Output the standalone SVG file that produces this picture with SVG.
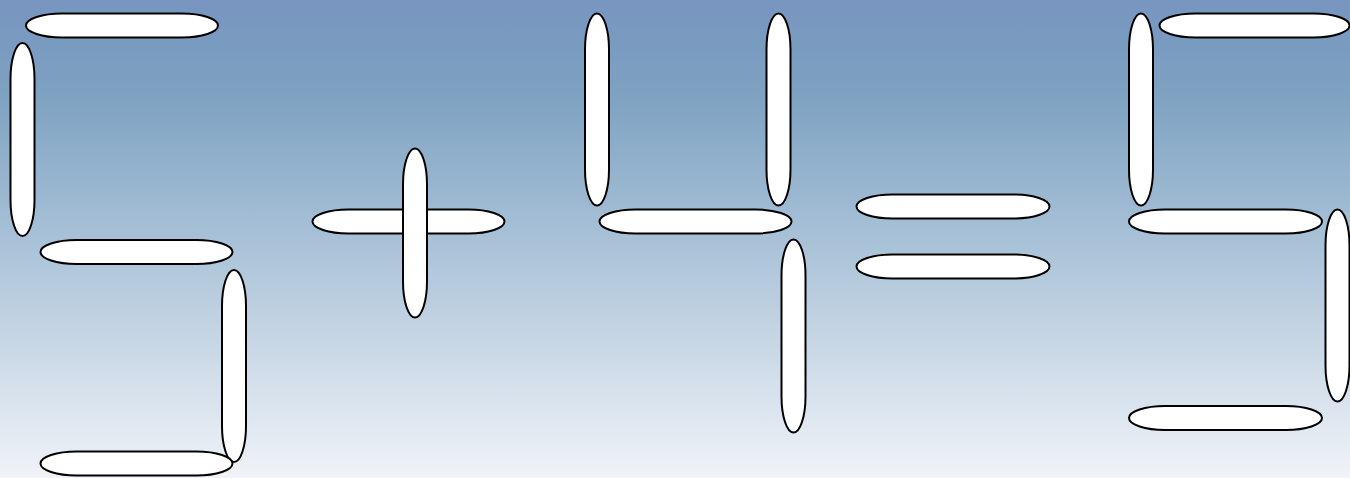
<svg xmlns="http://www.w3.org/2000/svg" width="1350" height="478" viewBox="0 0 1350 478">
<defs>
<linearGradient id="bg" x1="0" y1="0" x2="0" y2="1">
<stop offset="0" stop-color="#7795bf"/>
<stop offset="0.2" stop-color="#7ea2c2"/>
<stop offset="0.5" stop-color="#a8c1d7"/>
<stop offset="1" stop-color="#f0f3f8"/>
</linearGradient>
<style>
.h{fill:#fff;stroke:#000;stroke-width:2;}
.v{fill:#fff;stroke:#000;stroke-width:2;}
</style>
</defs>
<rect width="1350" height="478" fill="url(#bg)"/>
<g id="digit5">
<rect class="h" x="26" y="13.5" width="192" height="24" rx="36" ry="12"/>
<rect class="v" x="10.5" y="43" width="24" height="193" rx="12" ry="36"/>
<rect class="h" x="40.5" y="240" width="192" height="24" rx="36" ry="12"/>
<rect class="v" x="222" y="270" width="24" height="192" rx="12" ry="36"/>
<rect class="h" x="40.5" y="451.5" width="192" height="24" rx="36" ry="12"/>
</g>
<g id="plus">
<rect class="h" x="312.5" y="209.5" width="192" height="24" rx="36" ry="12"/>
<rect class="v" x="403" y="148.5" width="24" height="169" rx="12" ry="36"/>
</g>
<g id="digit4">
<rect class="v" x="585" y="13.5" width="24" height="192" rx="12" ry="36"/>
<rect class="v" x="766.5" y="13.5" width="24" height="192" rx="12" ry="36"/>
<rect class="h" x="599.5" y="209.5" width="192" height="24" rx="36" ry="12"/>
<rect class="v" x="781.5" y="239.5" width="24" height="193" rx="12" ry="36"/>
</g>
<g id="equals">
<rect class="h" x="856.5" y="194.5" width="193" height="24" rx="36" ry="12"/>
<rect class="h" x="856.5" y="254.5" width="193" height="24" rx="36" ry="12"/>
</g>
<g id="result5">
<rect class="v" x="1129" y="13.5" width="24" height="192" rx="12" ry="36"/>
<rect class="h" x="1159.5" y="13.5" width="190" height="24" rx="36" ry="12"/>
<rect class="h" x="1129" y="209.5" width="193" height="24" rx="36" ry="12"/>
<rect class="v" x="1325.5" y="209.5" width="24" height="192" rx="12" ry="36"/>
<rect class="h" x="1129" y="406" width="193" height="24" rx="36" ry="12"/>
</g>
</svg>
